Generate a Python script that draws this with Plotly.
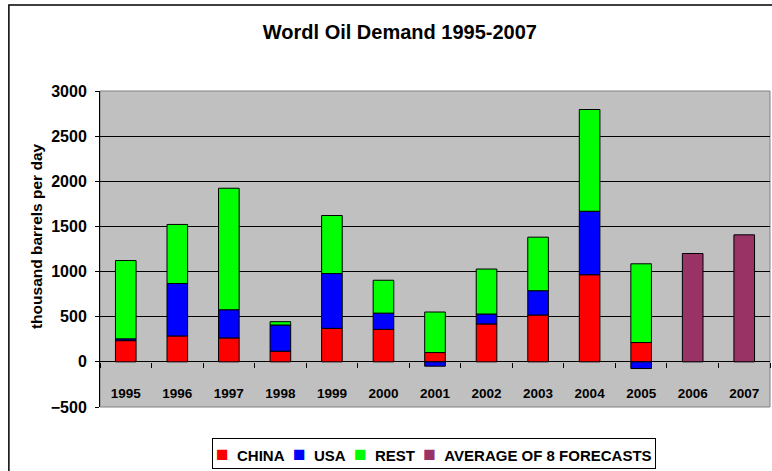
import plotly.graph_objects as go

# ─────────────────────────────────────────────────────────────────────────────
# DATA  (thousand barrels per day)
# ─────────────────────────────────────────────────────────────────────────────
YEARS    = ['1995', '1996', '1997', '1998', '1999', '2000', '2001',
            '2002', '2003', '2004', '2005', '2006', '2007']
CHINA    = [235, 287, 265, 118, 371, 360, 103, 420, 519, 965, 214, None, None]
USA      = [20, 581, 312, 290, 607, 180, -48, 110, 269, 703, -74, None, None]
REST     = [867, 654, 1346, 37, 643, 364, 449, 498, 593, 1127, 872, None, None]
FORECAST = [None] * 11 + [1200, 1407]

SERIES = ['CHINA', 'USA', 'REST', 'AVERAGE OF 8 FORECASTS']
COLORS = ['#ff0000', '#0000ff', '#00ff00', '#993366']
Y_TICKS = [-500, 0, 500, 1000, 1500, 2000, 2500, 3000]

FONT = 'Liberation Sans, Arial, sans-serif'
BOLD = dict(family=FONT, weight='bold', color='black')

fig = go.Figure()
for name, vals, col in zip(SERIES, [CHINA, USA, REST, FORECAST], COLORS):
    fig.add_trace(go.Bar(x=YEARS, y=vals, name=name, showlegend=False,
                         marker=dict(color=col, line=dict(color='black', width=1))))

y_lo, y_hi = Y_TICKS[0], Y_TICKS[-1]
zero_pos = (0 - y_lo) / (y_hi - y_lo)

# compact excel-style legend, one boxed line of text
SP = '&nbsp;'
legend_txt = (SP * 2).join(
    f"<span style='color:{c};font-size:21px'>■</span>{SP * 2}<b>{n}</b>"
    for n, c in zip(SERIES, COLORS))

fig.update_layout(
    width=772, height=471,
    barmode='relative', bargap=0.6,
    paper_bgcolor='white', plot_bgcolor='#c0c0c0',
    font=dict(family=FONT, color='black', size=12),
    margin=dict(l=100, r=2, t=91, b=64),
    title=dict(text='<b>Wordl Oil Demand 1995-2007</b>', x=0.518, xanchor='center',
               y=0.932, yanchor='middle', font=dict(size=20)),
    xaxis=dict(anchor='free', position=zero_pos, showline=False,
               ticks='outside', ticklen=5, tickcolor='black', tickson='boundaries',
               ticklabelstandoff=22, showgrid=False,
               tickfont=dict(size=13.5, **BOLD)),
    yaxis=dict(range=[y_lo, y_hi], tickvals=Y_TICKS, showgrid=True,
               gridcolor='black', gridwidth=1, zeroline=True, zerolinecolor='black',
               zerolinewidth=1, showline=True, linecolor='black', linewidth=1,
               ticks='outside', ticklen=4, tickcolor='black', ticklabelstandoff=5,
               tickfont=dict(size=16, **BOLD)),
    annotations=[
        # y-axis title sits a little above the plot's middle, as in excel
        dict(text='<b>thousand barrels per day</b>', xref='paper', yref='paper',
             x=-0.0955, y=0.541, xanchor='center', yanchor='middle', textangle=-90,
             showarrow=False, font=dict(size=15.5, family=FONT)),
        dict(text=legend_txt, xref='paper', yref='paper',
             x=0.4985, y=-0.147, xanchor='center', yanchor='middle',
             showarrow=False, font=dict(size=15, family=FONT),
             bordercolor='black', borderwidth=1, borderpad=3, bgcolor='white'),
    ],
    shapes=[
        dict(type='rect', xref='paper', yref='paper', x0=0, x1=1, y0=0, y1=1,
             line=dict(color='#808080', width=1), layer='below'),
        dict(type='rect', xref='paper', yref='paper', x0=-0.136, x1=1.05,
             y0=-0.4, y1=1.272, line=dict(color='black', width=1.5)),
    ],
)

# the page body has a default 8px margin; drop it so the chart sits at 0,0
fig.write_html('out.html', config={'displayModeBar': False},
               post_script="document.body.style.margin='0';")
